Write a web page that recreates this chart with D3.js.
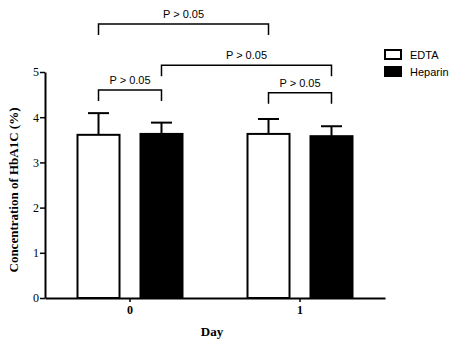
<!DOCTYPE html>
<html>
<head>
<meta charset="utf-8">
<script src="https://cdn.jsdelivr.net/npm/d3@7"></script>
<style>
  body { margin: 0; background: #fff; }
</style>
</head>
<body>
<svg width="458" height="343"></svg>
<script>
  var days = ["0", "1"];
  var groups = ["EDTA", "Heparin"];
  var means = [[3.61, 3.63], [3.63, 3.58]];   // [day][group]
  var errors = [[0.48, 0.25], [0.33, 0.22]];
  var yTicks = [0, 1, 2, 3, 4, 5];
  // comparisons: [day, group] to [day, group], bracket level in data units
  var comparisons = [
    { a: [0, 0], b: [1, 0], level: 6.06, label: "P > 0.05" },
    { a: [0, 1], b: [1, 1], level: 5.15, label: "P > 0.05" },
    { a: [0, 0], b: [0, 1], level: 4.60, label: "P > 0.05" },
    { a: [1, 0], b: [1, 1], level: 4.54, label: "P > 0.05" }
  ];

  var SANS = "'Liberation Sans', Arial, sans-serif";
  var SERIF = "'Liberation Serif', 'Times New Roman', serif";

  var svg = d3.select("svg");
  var margin = { left: 45, top: 72, right: 73, bottom: 45 };
  var width = +svg.attr("width");
  var height = +svg.attr("height");

  var xScale = d3.scaleBand()
    .domain(days)
    .range([margin.left, width - margin.right]);

  var inner = d3.scaleBand()
    .domain(groups)
    .range([0, xScale.bandwidth()])
    .paddingInner(0.333)
    .paddingOuter(0.516);

  var yScale = d3.scaleLinear()
    .domain([0, 5])
    .range([height - margin.bottom, margin.top]);

  var barX = function (di, gi) { return xScale(days[di]) + inner(groups[gi]); };
  var barMid = function (di, gi) { return barX(di, gi) + inner.bandwidth() / 2; };

  var flat = [];
  days.forEach(function (d, di) {
    groups.forEach(function (g, gi) {
      flat.push({ di: di, gi: gi, v: means[di][gi], e: errors[di][gi] });
    });
  });

  // error bars (drawn first so the bar covers the stem)
  var eb = svg.append("g").attr("stroke", "#000").attr("stroke-width", 2);
  flat.forEach(function (d) {
    var cx = barMid(d.di, d.gi);
    var capW = inner.bandwidth() / 4;
    eb.append("line").attr("x1", cx).attr("x2", cx)
      .attr("y1", yScale(d.v)).attr("y2", yScale(d.v + d.e));
    eb.append("line").attr("x1", cx - capW).attr("x2", cx + capW)
      .attr("y1", yScale(d.v + d.e)).attr("y2", yScale(d.v + d.e));
  });

  svg.append("g").selectAll("rect")
    .data(flat)
    .enter()
    .append("rect")
    .attr("x", function (d) { return barX(d.di, d.gi); })
    .attr("y", function (d) { return yScale(d.v); })
    .attr("width", inner.bandwidth())
    .attr("height", function (d) { return yScale(0) - yScale(d.v); })
    .attr("fill", function (d) { return d.gi === 0 ? "#fff" : "#000"; })
    .attr("stroke", "#000")
    .attr("stroke-width", 2);

  // axes
  var yAxis = d3.axisLeft(yScale).tickValues(yTicks).tickFormat(d3.format("d"))
    .tickSize(5).tickSizeOuter(0).tickPadding(1);
  var gy = svg.append("g")
    .attr("transform", "translate(" + margin.left + ",0)")
    .call(yAxis)
    .attr("font-family", SERIF)
    .attr("font-size", 12);
  gy.select(".domain").attr("stroke-width", 2);
  gy.selectAll(".tick line").attr("stroke-width", 1.5);
  gy.selectAll("text").attr("fill", "#000");

  var xAxis = d3.axisBottom(xScale).tickSize(4).tickSizeOuter(0).tickPadding(3);
  var gx = svg.append("g")
    .attr("transform", "translate(0," + (height - margin.bottom) + ")")
    .call(xAxis)
    .attr("font-family", SERIF)
    .attr("font-size", 12)
    .attr("font-weight", "bold");
  gx.select(".domain").attr("stroke-width", 2);
  gx.selectAll(".tick line").attr("stroke-width", 1.5);
  gx.selectAll("text").attr("fill", "#000");

  svg.append("text")
    .attr("font-family", SERIF)
    .attr("font-size", 13)
    .attr("font-weight", "bold")
    .attr("text-anchor", "middle")
    .attr("transform", "translate(18," + (margin.top + (height - margin.bottom - margin.top) / 2 + 5) + ") rotate(-90)")
    .text("Concentration of HbA1C (%)");

  svg.append("text")
    .attr("font-family", SERIF)
    .attr("font-size", 13)
    .attr("font-weight", "bold")
    .attr("text-anchor", "middle")
    .attr("x", 212)
    .attr("y", 336)
    .text("Day");

  // significance brackets
  var leg = 11;
  var br = svg.append("g");
  comparisons.forEach(function (c) {
    var x1 = barMid(c.a[0], c.a[1]);
    var x2 = barMid(c.b[0], c.b[1]);
    var y = yScale(c.level);
    br.append("path")
      .attr("d", "M" + x1 + "," + (y + leg) + "V" + y + "H" + x2 + "V" + (y + leg))
      .attr("fill", "none")
      .attr("stroke", "#000")
      .attr("stroke-width", 1.5);
    br.append("text")
      .attr("font-family", SANS)
      .attr("font-size", 11)
      .attr("text-anchor", "middle")
      .attr("x", (x1 + x2) / 2)
      .attr("y", y - 6)
      .text(c.label);
  });

  // legend
  var lg = svg.append("g").attr("transform", "translate(385,50)");
  groups.forEach(function (g, i) {
    lg.append("rect")
      .attr("x", 0).attr("y", i * 17)
      .attr("width", 16).attr("height", 9)
      .attr("fill", i === 0 ? "#fff" : "#000")
      .attr("stroke", "#000").attr("stroke-width", 2);
    lg.append("text")
      .attr("font-family", SANS)
      .attr("font-size", 11)
      .attr("x", 25).attr("y", i * 17 + 9)
      .text(g);
  });
</script>
</body>
</html>
